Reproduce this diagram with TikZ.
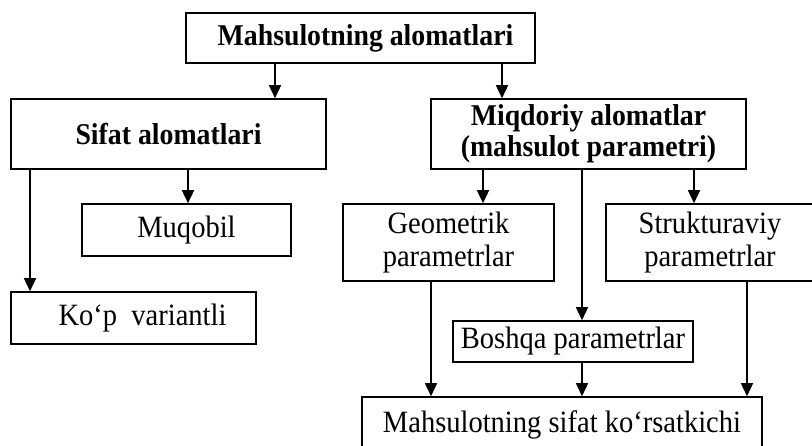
\documentclass[tikz,border=0pt]{standalone}
\usepackage{fontspec}
\setmainfont{Liberation Serif}[FakeStretch=0.92]
\usetikzlibrary{arrows.meta}
\begin{document}
\begin{tikzpicture}[x=1pt,y=-1pt,
  box/.style={draw,line width=1.6pt,inner sep=0pt,align=center,
    font=\fontsize{31}{33}\selectfont},
  headbox/.style={box,font=\bfseries\fontsize{30.2}{31}\selectfont},
  arr/.style={line width=1.6pt,-{Triangle[width=12pt,length=13pt]}}]
\useasboundingbox (0,0) rectangle (812,446);
% boxes, placed by centre with their outer size
\node[headbox,minimum width=349,minimum height=50] (top) at (360.5,38) {\hspace*{10pt}Mahsulotning alomatlari};
\node[headbox,minimum width=315,minimum height=70] (sifat) at (168.5,134) {Sifat alomatlari};
\node[headbox,minimum width=315,minimum height=70] (miq) at (588.5,134) {Miqdoriy alomatlar\\(mahsulot parametri)};
\node[box,minimum width=209,minimum height=52] (muq) at (186.5,230) {Muqobil};
\node[box,minimum width=245,minimum height=52] (kop) at (133.5,318) {\hspace*{18pt}Ko‘p\ \ variantli};
\node[box,minimum width=211,minimum height=77] (geo) at (448.5,242.5) {Geometrik\\parametrlar};
\node[box,minimum width=208,minimum height=77] (str) at (710,242.5) {Strukturaviy\\parametrlar};
\node[box,minimum width=240,minimum height=41] (bos) at (573,341.5) {Boshqa parametrlar};
\node[box,minimum width=400,minimum height=55] (bot) at (562,424.5) {Mahsulotning sifat ko‘rsatkichi};
% connectors
\draw[arr] (top.south -| 275,0) -- (sifat.north -| 275,0);
\draw[arr] (top.south -| 502,0) -- (miq.north -| 502,0);
\draw[arr] (sifat.south -| 188,0) -- (muq.north -| 188,0);
\draw[arr] (sifat.south -| 30,0) -- (kop.north -| 30,0);
\draw[arr] (miq.south -| 483,0) -- (geo.north -| 483,0);
\draw[arr] (miq.south -| 694,0) -- (str.north -| 694,0);
\draw[arr] (miq.south -| 582,0) -- (bos.north -| 582,0);
\draw[arr] (geo.south -| 431,0) -- (bot.north -| 431,0);
\draw[arr] (bos.south -| 582,0) -- (bot.north -| 582,0);
\draw[arr] (str.south -| 747,0) -- (bot.north -| 747,0);
\end{tikzpicture}
\end{document}
